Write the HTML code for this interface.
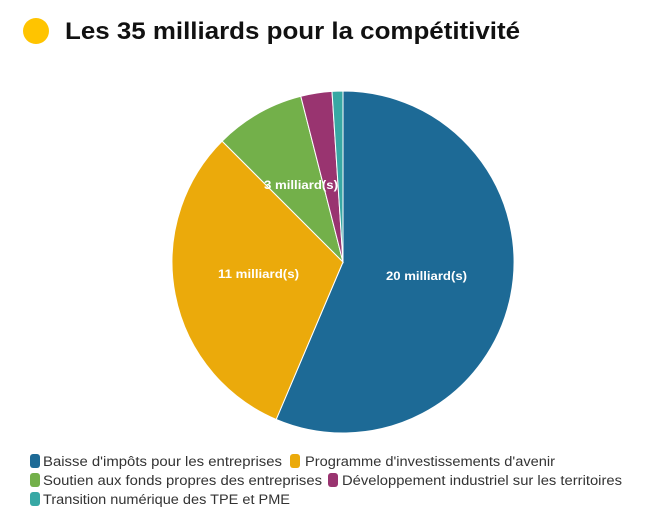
<!DOCTYPE html>
<html><head><meta charset="utf-8"><style>
body{margin:0;width:649px;height:520px;background:#fff;font-family:"Liberation Sans",sans-serif;overflow:hidden}
</style></head><body>
<svg width="649" height="520" xmlns="http://www.w3.org/2000/svg" style="position:absolute;left:0;top:0">
<circle cx="36" cy="31" r="13" fill="#ffc400"/>
<text x="65" y="39" font-family="Liberation Sans" font-weight="bold" font-size="24" fill="#111" textLength="455" lengthAdjust="spacingAndGlyphs">Les 35 milliards pour la compétitivité</text>
<g stroke="#fff" stroke-width="1">
<path d="M343,262 L343,91 A171,171 0 1,1 276.2,419.4 Z" fill="#1d6a96"/>
<path d="M343,262 L276.2,419.4 A171,171 0 0,1 222.1,141.1 Z" fill="#ebaa0b"/>
<path d="M343,262 L222.1,141.1 A171,171 0 0,1 300.8,96.3 Z" fill="#73b04a"/>
<path d="M343,262 L300.8,96.3 A171,171 0 0,1 332.0,91.4 Z" fill="#993470"/>
<path d="M343,262 L332.0,91.4 A171,171 0 0,1 343,91 Z" fill="#37a8a4"/>
</g>
<g font-family="Liberation Sans" font-weight="bold" font-size="12" fill="#fff">
<text x="386" y="280" textLength="81" lengthAdjust="spacingAndGlyphs">20 milliard(s)</text>
<text x="218" y="278" textLength="81" lengthAdjust="spacingAndGlyphs">11 milliard(s)</text>
<text x="264" y="189" textLength="74" lengthAdjust="spacingAndGlyphs">3 milliard(s)</text>
</g>
<g font-family="Liberation Sans" font-size="13.5" fill="#333" lengthAdjust="spacingAndGlyphs">
<rect x="30" y="454" width="10" height="14" rx="3" fill="#1d6a96"/>
<text x="43" y="466" textLength="239" lengthAdjust="spacingAndGlyphs">Baisse d'impôts pour les entreprises</text>
<rect x="290" y="454" width="10" height="14" rx="3" fill="#ebaa0b"/>
<text x="305" y="466" textLength="250" lengthAdjust="spacingAndGlyphs">Programme d'investissements d'avenir</text>
<rect x="30" y="473" width="10" height="14" rx="3" fill="#73b04a"/>
<text x="43" y="485" textLength="279" lengthAdjust="spacingAndGlyphs">Soutien aux fonds propres des entreprises</text>
<rect x="328" y="473" width="10" height="14" rx="3" fill="#993470"/>
<text x="342" y="485" textLength="280" lengthAdjust="spacingAndGlyphs">Développement industriel sur les territoires</text>
<rect x="30" y="492" width="10" height="14" rx="3" fill="#37a8a4"/>
<text x="43" y="504" textLength="247" lengthAdjust="spacingAndGlyphs">Transition numérique des TPE et PME</text>
</g>
</svg>
</body></html>
